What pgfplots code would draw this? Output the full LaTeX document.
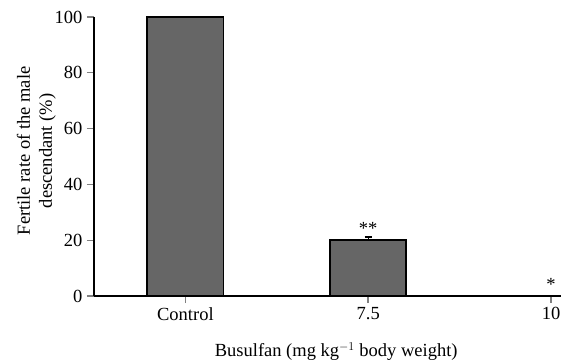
\documentclass[border=0pt]{standalone}
\usepackage{pgfplots}
\pgfplotsset{compat=1.18}
\usepackage{fontspec}
\setmainfont{Liberation Serif}
\definecolor{barfill}{RGB}{102,102,102}
\newcommand{\bigfont}{\fontsize{18.5bp}{22bp}\selectfont}
\begin{document}
\begin{tikzpicture}[font=\bigfont]
\begin{axis}[
  name=ax,
  scale only axis,
  width=457bp, height=279bp,
  xmin=-0.5, xmax=2,
  ymin=0, ymax=100,
  axis x line=bottom, axis y line=left,
  axis line style={-, line width=1.5bp},
  tick align=outside,
  xtick={0,1,2}, xticklabels={Control,7.5,10},
  ytick={0,20,40,60,80,100},
  major tick length=7bp,
  x tick style={line width=1.8bp},
  y tick style={line width=1.4bp},
  tick label style={font=\bigfont},
  label style={font=\bigfont},
  /pgf/number format/assume math mode=true,
  xticklabel style={yshift=-1bp},
  yticklabel style={xshift=-1bp},
  ylabel={Fertile rate of the male\\descendant (\%)},
  ylabel style={at={(axis description cs:-0.126,0.52)}, anchor=center, align=center},
  xlabel={Busulfan (mg kg$^{-1}$ body weight)},
  xlabel style={at={(axis description cs:0.53,-0.2)}, anchor=center},
  clip=false,
]
\addplot[ybar, bar width=76bp, fill=barfill, draw=black, line width=1.8bp,
  error bars/.cd, y dir=plus, y explicit,
  error bar style={line width=1.4bp}, error mark options={rotate=90, mark size=3.5bp, line width=1.4bp}]
  coordinates {(0,100) +- (0,0) (1,20) +- (0,1.2) (2,0) +- (0,0)};
\node[anchor=south, inner sep=0pt, font=\bigfont] at (axis cs:1,21.8) {**};
\node[anchor=south, inner sep=0pt, font=\bigfont] at (axis cs:2,1.8) {*};
\end{axis}
\pgfresetboundingbox
\path[use as bounding box] ([xshift=-94bp,yshift=-68bp]ax.south west) rectangle ([xshift=10bp,yshift=17bp]ax.north east);
\end{tikzpicture}
\end{document}
